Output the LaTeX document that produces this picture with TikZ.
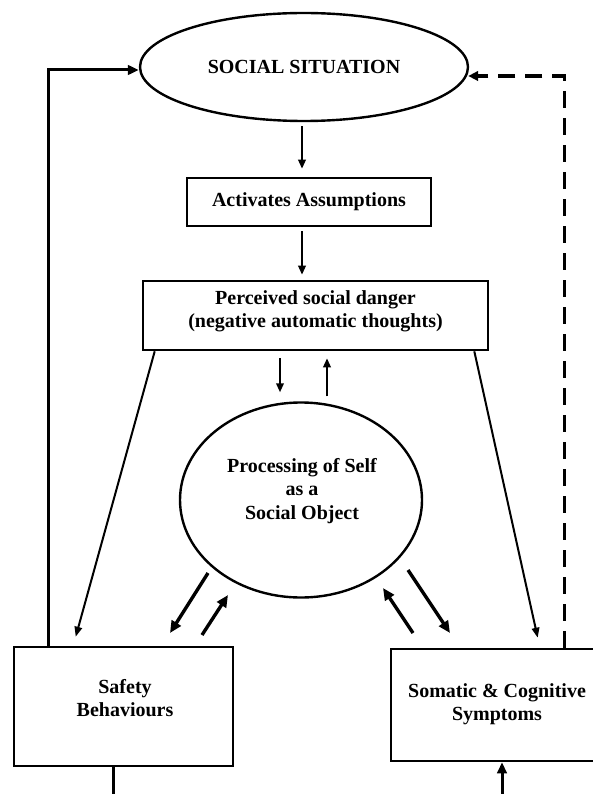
\documentclass[tikz,border=0pt]{standalone}
\usepackage{fontspec}
\setmainfont{Liberation Serif}
\usetikzlibrary{arrows.meta,shapes.geometric,calc}
\begin{document}
\begin{tikzpicture}[x=1pt,y=-1pt,
  txt/.style={font=\bfseries\fontsize{20}{23.2}\selectfont, align=center, inner sep=0pt},
  box/.style={draw, line width=2.6pt, inner sep=0pt},
  oval/.style={draw, ellipse, line width=2.4pt, inner sep=0pt},
  arr/.style={line width=2pt, -{Triangle[length=9pt,width=7.5pt]}},
  slant/.style={line width=2pt, -{Triangle[length=10pt,width=7.5pt]}},
  heavyarr/.style={line width=3.4pt, -{Triangle[length=12pt,width=10.5pt]}},
  loopline/.style={line width=3pt},
  looparr/.style={line width=3pt, -{Triangle[length=11pt,width=9.5pt]}},
  dashline/.style={line width=3.4pt, dash pattern=on 17pt off 10pt, -{Triangle[length=10pt,width=9.5pt]}}
]
\useasboundingbox (0,0) rectangle (593,794);
\fill[white] (0,0) rectangle (593,794);

% nodes
\node[oval, minimum width=328pt, minimum height=108pt, txt] (sit) at (304,67) {SOCIAL SITUATION};
\node[box, minimum width=244pt, minimum height=48pt, txt] (act) at (309,202) {Activates Assumptions};
\node[box, minimum width=345pt, minimum height=69pt] (perc) at (315.5,315.5) {};
\node[txt] (percT) at (315.5,311) {Perceived social danger\\(negative automatic thoughts)};
\node[oval, minimum width=242pt, minimum height=195pt] (self) at (301,500) {};
\node[txt] (selfT) at (302,491) {Processing of Self\\as a\\Social Object};
\node[box, minimum width=219pt, minimum height=119pt] (safety) at (123.5,706.5) {};
\node[txt] (safetyT) at (125,698) {Safety\\Behaviours};
\node[box, minimum width=212pt, minimum height=112pt] (somatic) at (497,705) {};
\node[txt] (somaticT) at (497,704.5) {Somatic \& Cognitive\\Symptoms};

% outer loops
\draw[looparr] ($(safety.north west)+(36,0)$) |- ([yshift=-3pt]sit.west);
\draw[dashline] ($(somatic.north west)+(175,0)$) |- ([yshift=-9pt,xshift=-1pt]sit.east);

% vertical chain
\draw[arr, shorten <=4pt, shorten >=8pt] ([xshift=-2pt]sit.south) -- ([xshift=-2pt]sit.south |- act.north);
\draw[arr, shorten <=4pt, shorten >=5pt] ([xshift=-7pt]act.south) -- ([xshift=-7pt]act.south |- perc.north);

% perc <-> self
\draw[arr, shorten <=7pt, shorten >=9pt] ($(perc.south -| self.north)+(-21,0)$) -- ($(self.north)+(-21,0)$);
\draw[arr, shorten <=5pt, shorten >=7pt] ($(self.north)+(26,0)$) -- ($(perc.south -| self.north)+(26,0)$);

% slanted lines
\draw[slant] ($(perc.south west)+(13,0)$) -- ($(safety.north west)+(63,-9)$);
\draw[slant] ($(perc.south east)+(-15,0)$) -- ($(somatic.north west)+(148,-10)$);

% heavy arrows
\coordinate (t1s) at (208,573); \coordinate (t1e) at (170,633);
\coordinate (t2s) at (202,635); \coordinate (t2e) at (228,595);
\coordinate (t3s) at (413,633); \coordinate (t3e) at (383,588);
\coordinate (t4s) at (408,570); \coordinate (t4e) at (450,633);
\draw[heavyarr] (t1s) -- (t1e);
\draw[heavyarr] (t2s) -- (t2e);
\draw[heavyarr] (t3s) -- (t3e);
\draw[heavyarr] (t4s) -- (t4e);

% bottom connectors
\coordinate (sb) at (113,800);
\coordinate (st) at (502,800);
\draw[loopline] (safety.south -| sb) -- (sb);
\draw[looparr] (st) -- (somatic.south -| st);
\end{tikzpicture}
\end{document}
